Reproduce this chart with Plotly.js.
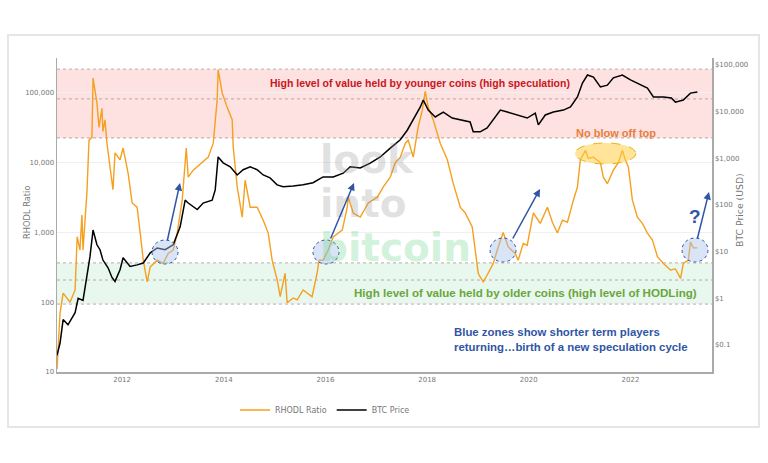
<!DOCTYPE html>
<html>
<head>
<meta charset="utf-8">
<script src="https://cdn.plot.ly/plotly-3.0.1.min.js"></script>
<style>
  html, body { margin: 0; padding: 0; background: #fff; }
  #chart { width: 768px; height: 463px; }
</style>
</head>
<body>
<div id="chart"></div>
<script>
// RHODL ratio
const rhodlDates = [
  '2010-09-20','2010-10-12','2010-11-03','2010-12-23','2011-01-28','2011-02-12','2011-03-04','2011-03-18',
  '2011-03-26','2011-04-23','2011-05-08','2011-05-29','2011-06-06','2011-07-04','2011-07-19','2011-08-09',
  '2011-08-16','2011-08-31','2011-09-14','2011-10-06','2011-10-27','2011-11-11','2011-12-17','2012-01-08',
  '2012-02-13','2012-03-13','2012-04-18','2012-05-10','2012-06-01','2012-06-29','2012-07-21','2012-09-09',
  '2012-10-22','2012-11-27','2013-01-02','2013-01-31','2013-03-08','2013-04-06','2013-04-20','2013-05-26',
  '2013-07-30','2013-09-11','2013-10-17','2013-11-14','2013-11-21','2013-12-20','2014-01-25','2014-03-02',
  '2014-03-09','2014-04-07','2014-05-13','2014-06-03','2014-07-09','2014-08-28','2014-10-11','2014-11-16',
  '2014-12-14','2015-01-19','2015-02-10','2015-03-17','2015-04-01','2015-05-14','2015-06-12','2015-07-25',
  '2015-09-27','2015-11-02','2015-11-16','2015-12-15','2016-01-21','2016-02-26','2016-05-01','2016-06-06',
  '2016-06-13','2016-07-19','2016-09-07','2016-11-04','2017-01-08','2017-02-20','2017-04-11','2017-05-17',
  '2017-06-22','2017-07-28','2017-08-18','2017-09-23','2017-10-29','2017-11-27','2017-12-18','2018-01-09',
  '2018-02-14','2018-04-05','2018-05-26','2018-07-08','2018-08-27','2018-10-02','2018-11-21','2018-12-13',
  '2019-01-03','2019-01-17','2019-02-08','2019-03-15','2019-04-21','2019-05-20','2019-07-01','2019-08-07',
  '2019-09-26','2019-10-17','2019-11-23','2019-12-21','2020-02-03','2020-03-24','2020-05-14','2020-06-19',
  '2020-07-25','2020-08-30','2020-10-05','2020-11-17','2020-12-16','2021-01-06','2021-02-12','2021-03-04',
  '2021-04-10','2021-05-30','2021-06-20','2021-07-19','2021-08-31','2021-10-06','2021-11-04','2021-11-25',
  '2021-12-17','2022-01-15','2022-02-20','2022-03-28','2022-05-03','2022-06-08','2022-07-14','2022-08-26',
  '2022-10-15','2022-11-20','2022-12-27','2023-01-16','2023-02-21','2023-03-08','2023-03-29','2023-04-27'
];
const rhodlValues = [
  11, 70, 135, 100, 150, 870, 560, 1780,
  560, 3700, 21000, 23000, 163000, 72000, 32000, 60000,
  28000, 41000, 19000, 8700, 4100, 13800, 11000, 16200,
  7100, 2650, 2300, 980, 400, 195, 320, 400,
  360, 500, 560, 980, 2950, 16200, 6200, 7800,
  10000, 12000, 19000, 80000, 215000, 100000, 62000, 41000,
  17000, 4500, 1660, 5600, 2300, 2300, 1500, 980,
  400, 210, 120, 260, 98, 115, 108, 150,
  120, 260, 400, 400, 560, 860, 1080, 2300,
  3200, 1900, 1660, 2650, 3200, 4500, 6200, 10000,
  12000, 19000, 21000, 12000, 33000, 56000, 105000, 62000,
  41000, 19000, 11000, 5000, 2300, 1900, 1200, 500,
  260, 230, 195, 260, 360, 560, 1000, 620,
  500, 400, 700, 650, 1900, 1350, 2300, 1400,
  980, 1500, 1400, 2900, 4500, 11000, 15000, 11500,
  12000, 10000, 6200, 5000, 7800, 10000, 15000, 11000,
  8700, 2900, 1660, 1350, 980, 780, 450, 360,
  290, 300, 220, 360, 400, 730, 600, 600
];

// BTC price (USD)
const btcDates = [
  '2010-09-20','2010-10-12','2010-11-03','2010-12-08','2011-01-28','2011-02-19','2011-03-26','2011-04-16',
  '2011-05-15','2011-06-06','2011-07-04','2011-07-26','2011-08-16','2011-09-22','2011-10-20','2011-11-11',
  '2011-12-17','2012-01-08','2012-02-27','2012-04-18','2012-06-01','2012-07-21','2012-09-09','2012-11-05',
  '2013-01-02','2013-02-21','2013-03-29','2013-04-20','2013-06-24','2013-08-05','2013-10-09','2013-10-31',
  '2013-11-21','2013-12-27','2014-02-16','2014-04-07','2014-05-20','2014-07-09','2014-08-28','2014-10-11',
  '2014-11-29','2015-01-19','2015-03-03','2015-05-14','2015-07-25','2015-10-04','2015-12-15','2016-02-26',
  '2016-05-08','2016-06-27','2016-09-07','2016-11-18','2017-01-29','2017-04-11','2017-06-22','2017-08-11',
  '2017-09-23','2017-11-13','2017-12-04','2018-01-09','2018-02-28','2018-04-27','2018-06-30','2018-08-27',
  '2018-11-06','2018-11-28','2019-01-17','2019-03-08','2019-04-21','2019-06-11','2019-07-31','2019-10-11',
  '2019-12-21','2020-02-17','2020-03-10','2020-04-29','2020-06-26','2020-09-06','2020-10-27','2020-12-16',
  '2021-01-21','2021-02-26','2021-04-10','2021-05-30','2021-07-19','2021-08-31','2021-11-04','2022-01-01',
  '2022-03-13','2022-05-03','2022-06-15','2022-08-26','2022-10-22','2022-11-20','2023-01-16','2023-03-08',
  '2023-04-27'
];
const btcValues = [
  0.06, 0.11, 0.35, 0.27, 0.49, 1.0, 0.9, 2.1,
  7.8, 29, 14, 11, 6.6, 4.5, 2.8, 2.3,
  4.1, 7.4, 4.8, 5.2, 5.7, 9.4, 12, 11,
  14, 34, 127, 110, 80, 110, 127, 210,
  1070, 800, 660, 440, 570, 660, 570, 440,
  380, 270, 245, 255, 270, 300, 400, 400,
  480, 660, 620, 790, 1070, 1650, 2500, 4000,
  6600, 12600, 17800, 10800, 7700, 9800, 7300, 6600,
  6000, 3700, 3700, 4500, 6600, 10800, 9800, 8500,
  7300, 9300, 5200, 8500, 9800, 10800, 12600, 20600,
  41000, 61000, 55000, 34000, 37000, 53000, 61000, 48000,
  37000, 32000, 20600, 20600, 19700, 16000, 17800, 25000,
  26500
];

const leftTicks = [10, 100, 1000, 10000, 100000];
const leftTickText = ['10', '100', '1,000', '10,000', '100,000'];
const rightTicks = [0.1, 1, 10, 100, 1000, 10000, 100000];
const rightTickText = ['$0.1', '$1', '$10', '$100', '$1,000', '$10,000', '$100,000'];
const yearTicks = ['2012-01-01', '2014-01-01', '2016-01-01', '2018-01-01', '2020-01-01', '2022-01-01'];

// zones on the RHODL axis
const speculationBand = [22600, 219000];
const hodlBand = [94, 366];
const bandLines = [219000, 82000, 22600, 366, 208, 94];

const W = 768, H = 463;
const M = { l: 57, r: 56, t: 58, b: 91 };
const leftRange = [1, 5.5];
const rightRange = [-1.58, 5.15];

// pixel -> paper helpers for the hand drawn notes
const px = x => (x - M.l) / (W - M.l - M.r);
const py = y => (H - M.b - y) / (H - M.t - M.b);
const ly = v => (Math.log10(v) - leftRange[0]) / (leftRange[1] - leftRange[0]);

const blue = '#2f55a4';
const noteFont = 'Liberation Sans, Arial, sans-serif';
const axisFont = 'DejaVu Sans, Verdana, sans-serif';

const shapes = [
  {
    type: 'rect', xref: 'paper', yref: 'paper', x0: 0, x1: 1,
    y0: ly(speculationBand[0]), y1: ly(speculationBand[1]),
    fillcolor: 'rgba(250,120,120,0.22)', line: { width: 0 }, layer: 'below'
  },
  {
    type: 'rect', xref: 'paper', yref: 'paper', x0: 0, x1: 1,
    y0: ly(hodlBand[0]), y1: ly(hodlBand[1]),
    fillcolor: 'rgba(110,210,150,0.16)', line: { width: 0 }, layer: 'below'
  }
];
bandLines.forEach(v => {
  shapes.push({
    type: 'line', xref: 'paper', yref: 'paper', x0: 0, x1: 1, y0: ly(v), y1: ly(v),
    line: { color: 'rgba(170,150,150,0.8)', width: 1, dash: 'dot' }, layer: 'below'
  });
});

// outer frame
shapes.push({
  type: 'rect', xref: 'paper', yref: 'paper',
  x0: px(8), x1: px(759), y0: py(35), y1: py(427),
  line: { color: '#e6e6e6', width: 2 }, fillcolor: 'rgba(0,0,0,0)'
});

// blue zones
const zones = [[165, 252], [326, 252], [503, 250], [695, 250]];
zones.forEach(z => {
  shapes.push({
    type: 'circle', xref: 'paper', yref: 'paper',
    x0: px(z[0] - 13), x1: px(z[0] + 13), y0: py(z[1] + 12), y1: py(z[1] - 12),
    fillcolor: 'rgba(170,195,235,0.45)', line: { color: blue, width: 1, dash: 'dot' }
  });
});
shapes.push({
  type: 'circle', xref: 'paper', yref: 'paper',
  x0: px(575), x1: px(636), y0: py(164), y1: py(143),
  fillcolor: 'rgba(255,205,70,0.55)', line: { color: '#e6b422', width: 1, dash: 'dash' }
});

const annotations = [
  { text: 'High level of value held by younger coins (high speculation)', x: px(420), y: py(83),
    font: { size: 10.5, color: '#c8161d', family: noteFont, weight: 'bold' } },
  { text: 'No blow off top', x: px(616), y: py(133),
    font: { size: 11, color: '#e67e3a', family: noteFont, weight: 'bold' } },
  { text: 'High level of value held by older coins (high level of HODLing)', x: px(525), y: py(292),
    font: { size: 11.6, color: '#6aa63c', family: noteFont, weight: 'bold' } },
  { text: 'Blue zones show shorter term players<br>returning…birth of a new speculation cycle',
    x: px(452), y: py(339), xanchor: 'left', align: 'left',
    font: { size: 11.4, color: blue, family: noteFont, weight: 'bold' } },
  { text: '?', x: px(695), y: py(216),
    font: { size: 19, color: blue, family: noteFont, weight: 'bold' } },
  // axis titles
  { text: 'RHODL Ratio', x: px(27), y: py(213), textangle: -90,
    font: { size: 8.3, color: '#777', family: axisFont } },
  { text: 'BTC Price (USD)', x: px(739), y: py(210), textangle: -90,
    font: { size: 9.3, color: '#777', family: axisFont } },
  // watermark
  { text: 'look', x: px(318), y: py(159), xanchor: 'left',
    font: { size: 39, color: 'rgba(150,150,150,0.28)', family: axisFont, weight: 'bold' } },
  { text: 'into', x: px(318), y: py(203), xanchor: 'left',
    font: { size: 39, color: 'rgba(150,150,150,0.28)', family: axisFont, weight: 'bold' } },
  { text: 'bitcoin', x: px(318), y: py(247), xanchor: 'left',
    font: { size: 39, color: 'rgba(100,210,130,0.3)', family: axisFont, weight: 'bold' } }
].map(a => Object.assign({ xref: 'paper', yref: 'paper', showarrow: false, xanchor: 'center', yanchor: 'middle' }, a));

// arrows: [tail x, tail y, head x, head y] in pixels
const arrows = [[167, 242, 180, 183], [330, 240, 354, 183], [512, 240, 540, 189], [697, 240, 709, 192]];
arrows.forEach(a => {
  annotations.push({
    xref: 'paper', yref: 'paper', x: px(a[2]), y: py(a[3]), ax: a[0] - a[2], ay: a[1] - a[3],
    text: '', showarrow: true, arrowhead: 2, arrowsize: 1, arrowwidth: 1.5, arrowcolor: blue
  });
});

const traces = [
  {
    x: rhodlDates, y: rhodlValues, name: 'RHODL Ratio',
    type: 'scatter', mode: 'lines', line: { color: '#f5a01e', width: 1.4 }
  },
  {
    x: btcDates, y: btcValues, name: 'BTC Price', yaxis: 'y2',
    type: 'scatter', mode: 'lines', line: { color: '#000', width: 1.5 }
  }
];

const tickFont = { size: 7, color: '#777', family: axisFont };

Plotly.newPlot('chart', traces, {
  width: W, height: H,
  margin: M,
  paper_bgcolor: '#fff',
  plot_bgcolor: '#fff',
  showlegend: true,
  legend: {
    orientation: 'h', x: px(325), y: py(410), xanchor: 'center', yanchor: 'middle',
    font: { size: 8, color: '#777', family: axisFont }
  },
  xaxis: {
    type: 'date',
    range: ['2010-09-20', '2023-08-10'],
    tickvals: yearTicks,
    tickformat: '%Y',
    tickfont: tickFont,
    showgrid: false,
    showline: true, linecolor: '#aaa', linewidth: 1.5,
    ticks: '', zeroline: false
  },
  yaxis: {
    type: 'log',
    range: leftRange,
    tickvals: leftTicks,
    ticktext: leftTickText,
    tickfont: tickFont,
    showgrid: true, gridcolor: '#f0f0f0',
    showline: true, linecolor: '#aaa', linewidth: 1.5,
    ticks: '', zeroline: false
  },
  yaxis2: {
    type: 'log',
    overlaying: 'y',
    side: 'right',
    range: rightRange,
    tickvals: rightTicks,
    ticktext: rightTickText,
    tickfont: tickFont,
    showgrid: false,
    showline: true, linecolor: '#aaa', linewidth: 1.5,
    ticks: '', zeroline: false
  },
  shapes: shapes,
  annotations: annotations
}, { displayModeBar: false, staticPlot: true });
</script>
</body>
</html>
